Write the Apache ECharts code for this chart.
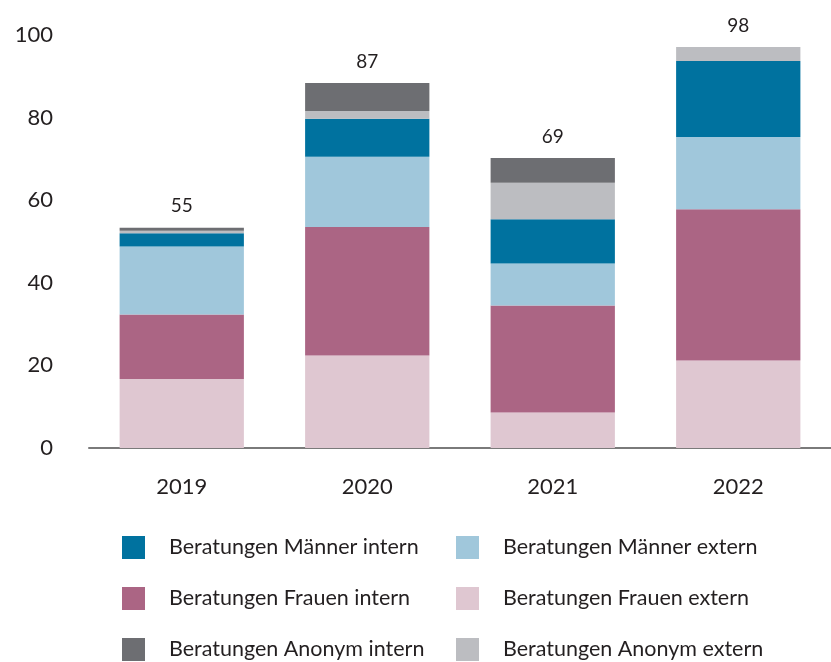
<!DOCTYPE html>
<html>
<head>
<meta charset="utf-8">
<script src="https://cdn.jsdelivr.net/npm/echarts@6/dist/echarts.min.js"></script>
<style>html,body{margin:0;padding:0;background:#fff}#c{width:831px;height:662px}</style>
</head>
<body>
<div id="c"></div>
<script>
const categories = ['2019', '2020', '2021', '2022'];
const frauenExtern = [16.7, 22.4, 8.6, 21.2];
const frauenIntern = [15.6, 31.1, 25.9, 36.6];
const maennerExtern = [16.5, 17.0, 10.2, 17.5];
const maennerIntern = [3.2, 9.2, 10.7, 18.4];
const anonymExtern = [0.6, 1.9, 8.8, 3.4];
const anonymIntern = [0.7, 6.8, 6.0, 0];
const totals = [55, 87, 69, 98];
const yTicks = [0, 20, 40, 60, 80, 100];

const FONT = 'Lato, "Open Sans", sans-serif';
const TXT = '#231f20';

function s(name, data, color) {
  return { name, type: 'bar', stack: 'a', data, barWidth: '67%',
    itemStyle: { color }, emphasis: { disabled: true } };
}
const series = [
  s('Beratungen Frauen extern', frauenExtern, '#dfc7d1'),
  s('Beratungen Frauen intern', frauenIntern, '#ab6584'),
  s('Beratungen Männer extern', maennerExtern, '#a0c7db'),
  s('Beratungen Männer intern', maennerIntern, '#00729f'),
  s('Beratungen Anonym extern', anonymExtern, '#bcbdc1'),
  s('Beratungen Anonym intern', anonymIntern, '#6d6e72'),
  { name: 'total', type: 'bar', stack: 'a', data: totals.map(() => 0), barWidth: '67%',
    itemStyle: { color: 'transparent' },
    label: { show: true, position: 'top', distance: 12, color: TXT, fontSize: 19, fontFamily: FONT,
      formatter: p => String(totals[p.dataIndex]) } }
];

const legendCommon = {
  orient: 'vertical', itemWidth: 23, itemHeight: 23, itemGap: 28, padding: 0, height: 140,
  icon: 'rect', selectedMode: false,
  textStyle: { color: TXT, fontSize: 21.5, fontFamily: FONT, padding: [0, 0, 0, 19] }
};

const chart = echarts.init(document.getElementById('c'), null, { renderer: 'canvas' });
chart.setOption({
  animation: false,
  backgroundColor: '#fff',
  grid: { left: 89, top: 35, width: 745, height: 413 },
  xAxis: { type: 'category', data: categories,
    axisLine: { lineStyle: { color: '#7a7a7a', width: 2 } },
    axisTick: { show: false },
    axisLabel: { color: TXT, fontSize: 22, fontFamily: FONT, margin: 28 } },
  yAxis: { type: 'value', min: 0, max: 100, interval: 20,
    axisLine: { show: false }, axisTick: { show: false }, splitLine: { show: false },
    axisLabel: { color: TXT, fontSize: 22, fontFamily: FONT, margin: 36,
      formatter: v => yTicks.includes(v) ? String(v) : '' } },
  legend: [
    Object.assign({ left: 122, top: 536, data: ['Beratungen Männer intern', 'Beratungen Frauen intern', 'Beratungen Anonym intern'] }, legendCommon),
    Object.assign({ left: 456, top: 536, data: ['Beratungen Männer extern', 'Beratungen Frauen extern', 'Beratungen Anonym extern'] }, legendCommon)
  ],
  series
});
</script>
</body>
</html>
